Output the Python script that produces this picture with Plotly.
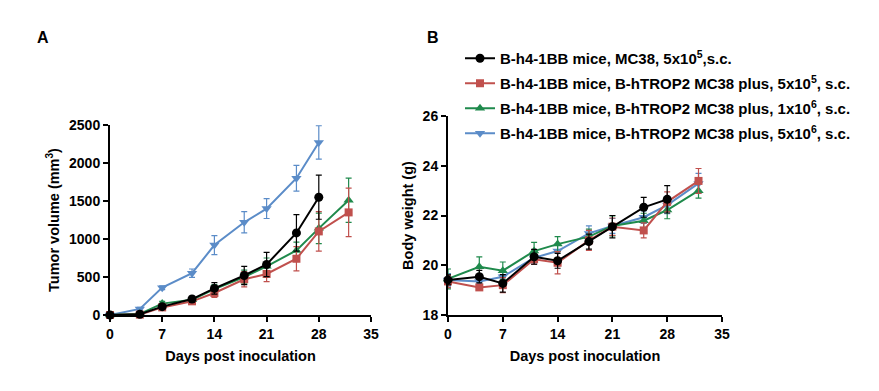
import plotly.graph_objects as go

days = [0, 4, 7, 11, 14, 18, 21, 25, 28, 32]
days_mc38 = [0, 4, 7, 11, 14, 18, 21, 25, 28]

names = [
    "B-h4-1BB mice, MC38, 5x10<sup>5</sup>,s.c.",
    "B-h4-1BB mice, B-hTROP2 MC38 plus, 5x10<sup>5</sup>, s.c.",
    "B-h4-1BB mice, B-hTROP2 MC38 plus, 1x10<sup>6</sup>, s.c.",
    "B-h4-1BB mice, B-hTROP2 MC38 plus, 5x10<sup>6</sup>, s.c.",
]
colors = ["#000000", "#C0504D", "#1F8A4C", "#5B8CC8"]
symbols = ["circle", "square", "triangle-up", "triangle-down"]

# Tumor volume (mm3)
tv_black = [0, 10, 110, 210, 350, 520, 665, 1080, 1550]
tv_black_err = [5, 10, 25, 35, 75, 120, 160, 240, 290]
tv_red = [0, 5, 100, 180, 290, 470, 540, 740, 1100, 1350]
tv_red_err = [5, 8, 20, 30, 60, 100, 100, 160, 260, 320]
tv_green = [0, 15, 150, 200, 340, 500, 640, 850, 1140, 1510]
tv_green_err = [5, 10, 30, 35, 60, 90, 110, 110, 200, 290]
tv_blue = [0, 80, 360, 550, 920, 1220, 1400, 1800, 2270]
tv_blue_err = [5, 20, 25, 55, 125, 140, 130, 170, 220]

# Body weight (g)
bw_black = [19.41, 19.54, 19.27, 20.34, 20.18, 20.95, 21.55, 22.33, 22.65]
bw_black_err = [0.2, 0.25, 0.35, 0.3, 0.3, 0.3, 0.45, 0.4, 0.55]
bw_red = [19.35, 19.11, 19.20, 20.24, 20.10, 21.00, 21.55, 21.40, 22.55, 23.39]
bw_red_err = [0.25, 0.1, 0.3, 0.2, 0.45, 0.4, 0.35, 0.3, 0.4, 0.5]
bw_green = [19.45, 19.94, 19.78, 20.57, 20.85, 21.15, 21.58, 21.79, 22.22, 23.00]
bw_green_err = [0.4, 0.4, 0.35, 0.35, 0.3, 0.3, 0.4, 0.3, 0.35, 0.3]
bw_blue = [19.41, 19.35, 19.54, 20.30, 20.57, 21.28, 21.58, 21.93, 22.42, 23.29]
bw_blue_err = [0.25, 0.2, 0.2, 0.25, 0.3, 0.3, 0.3, 0.25, 0.35, 0.4]

tv = [(days_mc38, tv_black, tv_black_err), (days, tv_red, tv_red_err),
      (days, tv_green, tv_green_err), (days_mc38, tv_blue, tv_blue_err)]
bw = [(days_mc38, bw_black, bw_black_err), (days, bw_red, bw_red_err),
      (days, bw_green, bw_green_err), (days, bw_blue, bw_blue_err)]

# page body has an 8px default margin; size the figure to fill the rest of the window
OFF = 8
W, H = 879 - OFF, 391 - OFF


def xf(px):
    return (px - OFF) / W


def yf(py):
    return 1 - (py - OFF) / H


fig = go.Figure()
draw_order = [3, 2, 1, 0]
for i in draw_order:
    msize = 9 if symbols[i] != "square" else 8
    x, y, e = tv[i]
    fig.add_trace(go.Scatter(
        x=x, y=y, mode="lines+markers", name=names[i], legendrank=i + 1,
        line=dict(color=colors[i], width=2),
        marker=dict(symbol=symbols[i], size=msize, color=colors[i]),
        error_y=dict(type="data", array=e, visible=True, color=colors[i],
                     thickness=1.2, width=3),
        cliponaxis=False, xaxis="x", yaxis="y", showlegend=True,
        legendgroup=str(i),
    ))
for i in draw_order:
    msize = 9 if symbols[i] != "square" else 8
    x, y, e = bw[i]
    fig.add_trace(go.Scatter(
        x=x, y=y, mode="lines+markers", name=names[i],
        line=dict(color=colors[i], width=2),
        marker=dict(symbol=symbols[i], size=msize, color=colors[i]),
        error_y=dict(type="data", array=e, visible=True, color=colors[i],
                     thickness=1.2, width=3),
        cliponaxis=False, xaxis="x2", yaxis="y2", showlegend=False,
        legendgroup=str(i),
    ))

font_family = "Liberation Sans, Arial, sans-serif"
axis_common = dict(
    showline=True, linecolor="black", linewidth=2, ticks="outside",
    ticklen=5, tickwidth=2, tickcolor="black", showgrid=False, zeroline=False,
    automargin=False,
    tickfont=dict(family=font_family, size=14, color="black", weight="bold"),
    title_font=dict(family=font_family, size=14.5, color="black", weight="bold"),
)

fig.update_layout(
    width=W, height=H,
    margin=dict(l=0, r=0, t=0, b=0),
    paper_bgcolor="white", plot_bgcolor="white",
    font=dict(family=font_family, color="black"),
    xaxis=dict(domain=[xf(110), xf(371)], range=[0, 35], tickvals=[0, 7, 14, 21, 28, 35],
               anchor="y", title=dict(text="Days post inoculation", standoff=10), **axis_common),
    yaxis=dict(domain=[yf(315), yf(125)], range=[0, 2500], tickvals=[0, 500, 1000, 1500, 2000, 2500],
               anchor="x", title=dict(text="Tumor volume (mm<sup>3</sup>)", standoff=6), **axis_common),
    xaxis2=dict(domain=[xf(448), xf(722)], range=[0, 35], tickvals=[0, 7, 14, 21, 28, 35],
                anchor="y2", title=dict(text="Days post inoculation", standoff=10), **axis_common),
    yaxis2=dict(domain=[yf(315), yf(116)], range=[18, 26], tickvals=[18, 20, 22, 24, 26],
                anchor="x2", title=dict(text="Body weight (g)", standoff=6), **axis_common),
    legend=dict(
        x=xf(460), y=yf(42), xanchor="left", yanchor="top",
        bgcolor="rgba(0,0,0,0)", tracegroupgap=2.5,
        font=dict(family=font_family, size=15, color="black", weight="bold"),
        itemwidth=30,
    ),
    annotations=[
        dict(text="A", x=xf(35), y=yf(27), xref="paper", yref="paper", showarrow=False,
             font=dict(family=font_family, size=16, color="black", weight="bold")),
        dict(text="B", x=xf(433), y=yf(27), xref="paper", yref="paper", showarrow=False,
             font=dict(family=font_family, size=16, color="black", weight="bold")),
    ],
)

fig.write_html("out.html")
